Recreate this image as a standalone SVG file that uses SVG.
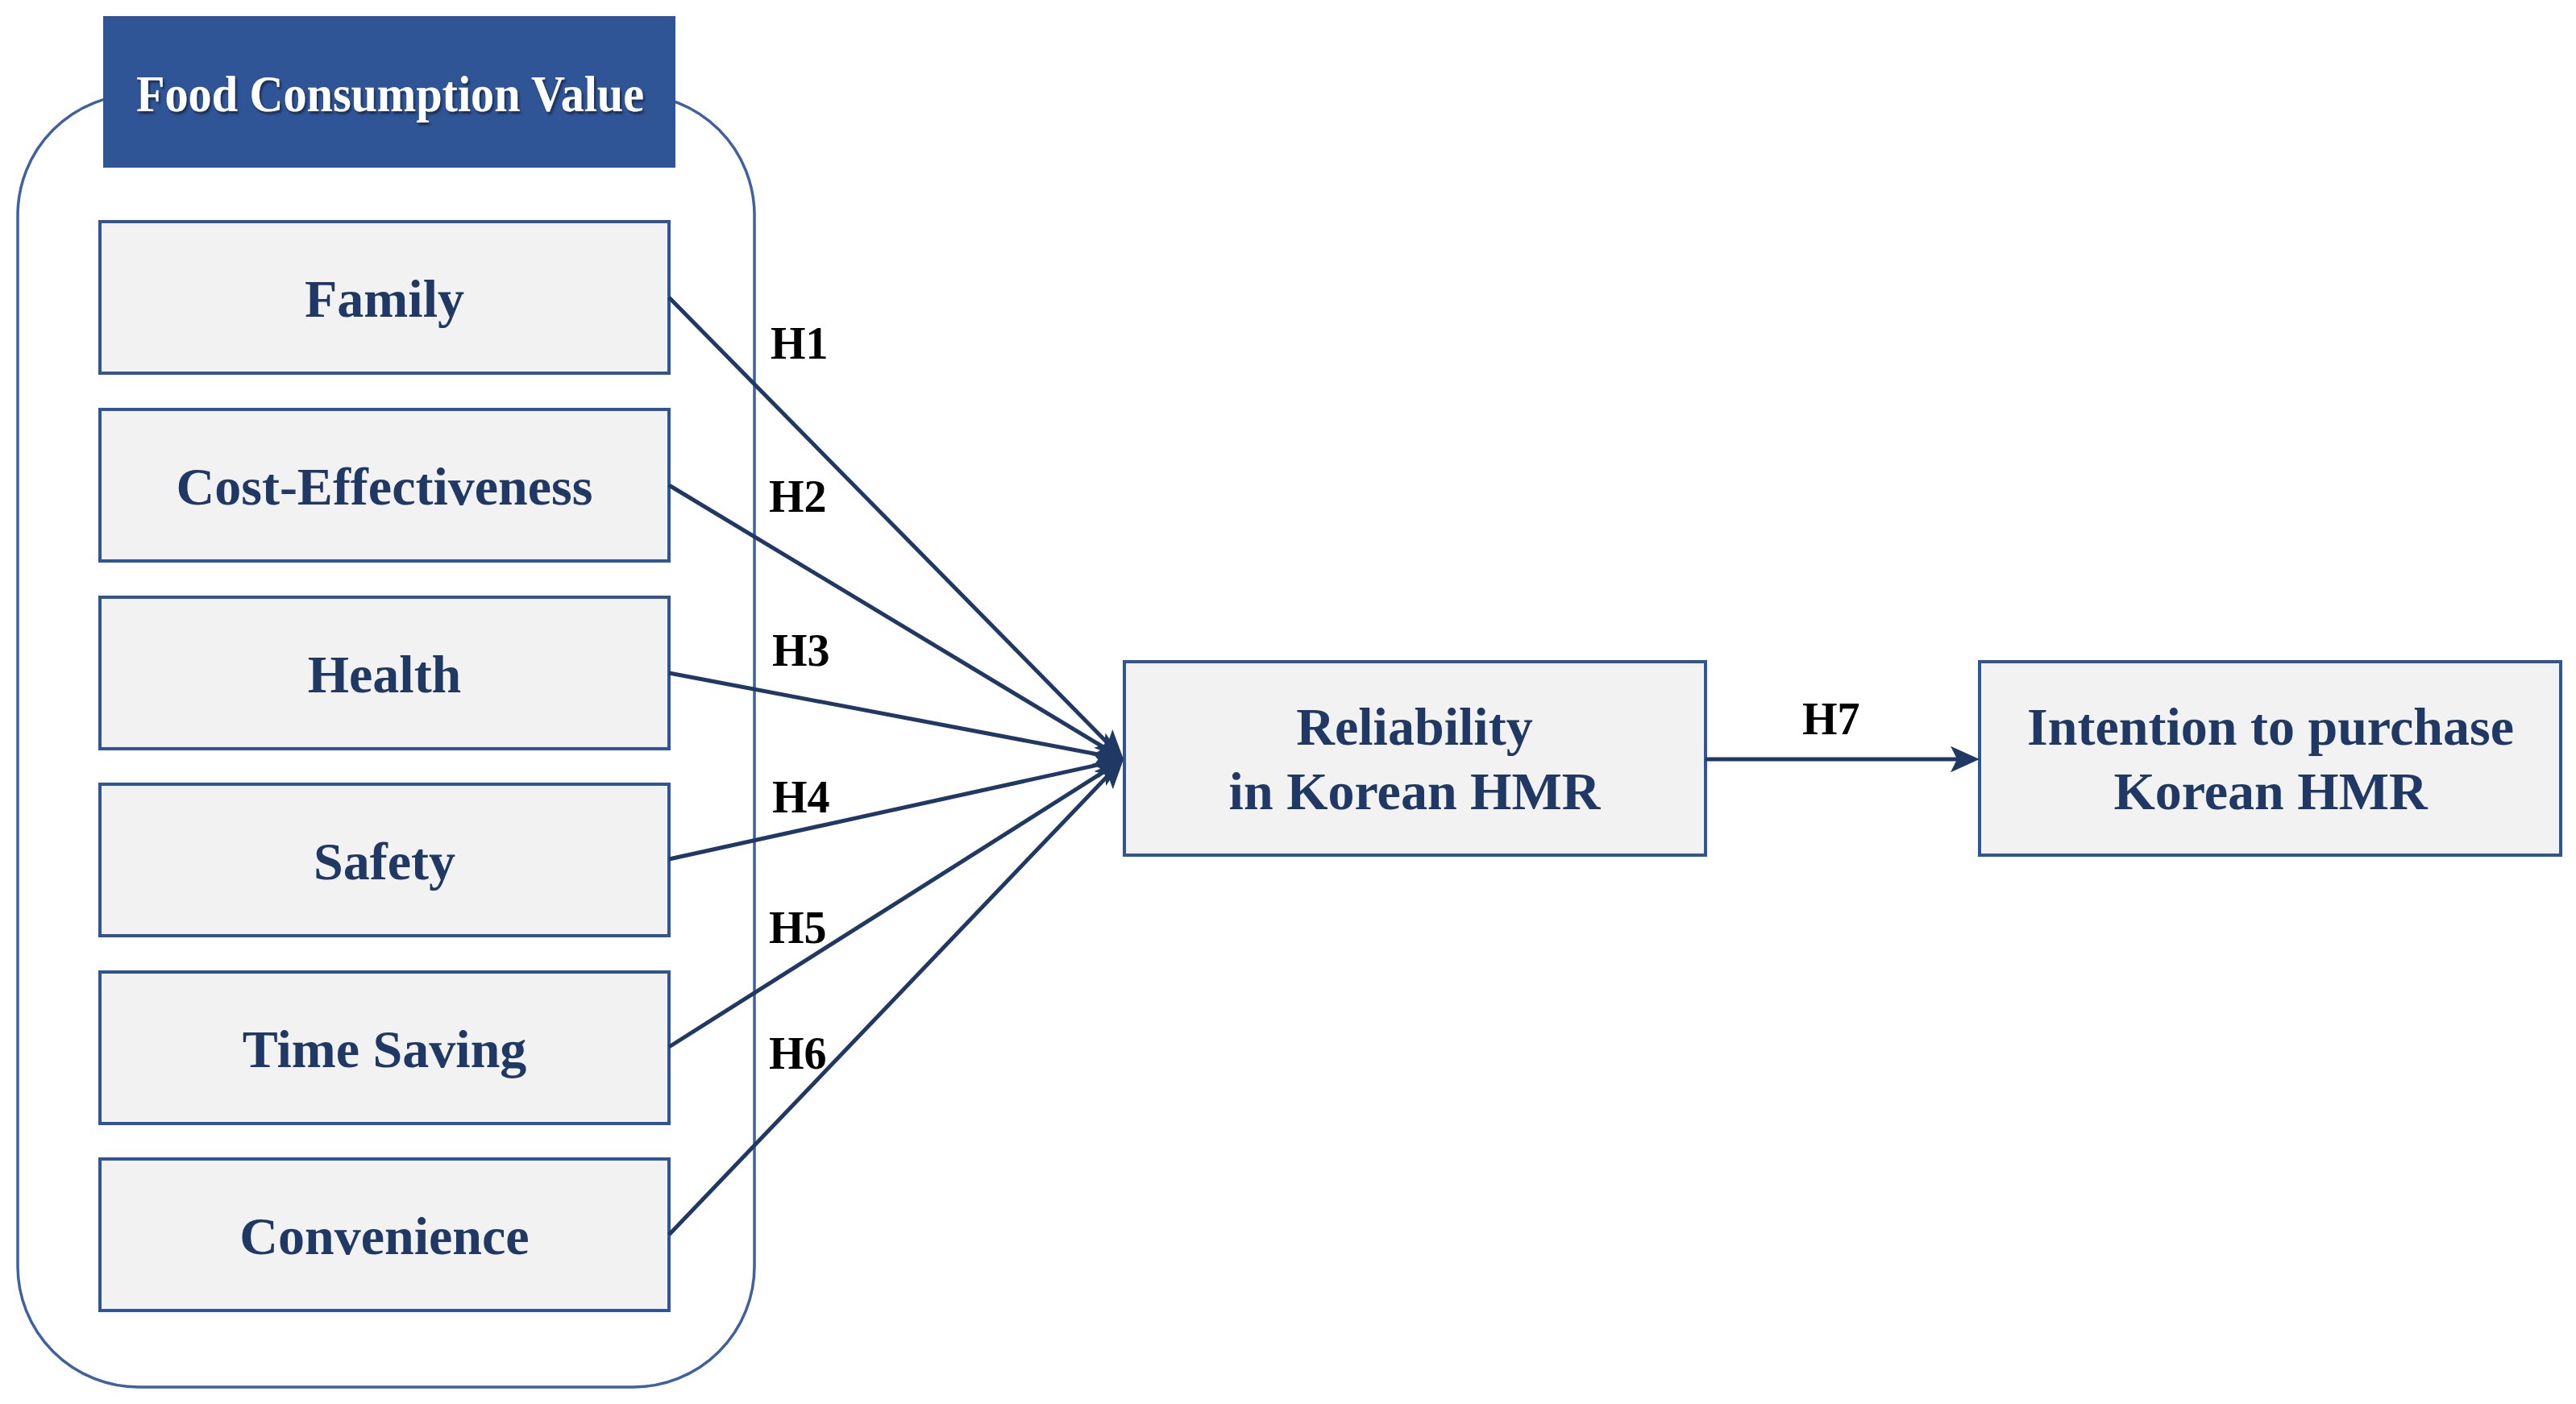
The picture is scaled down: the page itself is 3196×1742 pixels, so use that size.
<svg xmlns="http://www.w3.org/2000/svg" width="3196" height="1742" viewBox="0 0 3196 1742">
<style>
.box{fill:#F2F2F2;stroke:#2F5597;stroke-width:4}
.lbl{font-family:"Liberation Serif","Times New Roman",serif;font-weight:bold;font-size:66px;fill:#1F3864;text-anchor:middle}
.h{font-family:"Liberation Serif","Times New Roman",serif;font-weight:bold;font-size:56px;fill:#000}
.conn{stroke:#203864;stroke-width:5;fill:none}
</style>
<defs>
<marker id="arr" markerUnits="userSpaceOnUse" viewBox="0 0 40 40" markerWidth="36" markerHeight="36" refX="26.7" refY="20" orient="auto">
<path d="M0,2 L40,20 L0,38 L9,20 Z" fill="#203864"/>
</marker>
<filter id="sh" x="-5%" y="-20%" width="110%" height="140%">
<feDropShadow dx="2" dy="3" stdDeviation="1.5" flood-color="#000" flood-opacity="0.5"/>
</filter>
</defs>
<rect width="3196" height="1742" fill="#fff"/>
<g id="group-container">
<rect x="22" y="117" width="914" height="1604" rx="150" ry="150" fill="none" stroke="#3E619F" stroke-width="3.5"/>
</g>
<g id="header">
<rect x="128" y="20" width="710" height="188" fill="#2F5597"/>
<text x="484" y="138" font-family="Liberation Serif, Times New Roman, serif" font-weight="bold" font-size="64" fill="#fff" text-anchor="middle" textLength="630" lengthAdjust="spacingAndGlyphs" filter="url(#sh)">Food Consumption Value</text>
</g>
<g id="family"><rect class="box" x="124" y="275" width="706" height="188"/><text class="lbl" x="477" y="393">Family</text></g>
<g id="cost"><rect class="box" x="124" y="508" width="706" height="188"/><text class="lbl" x="477" y="626">Cost-Effectiveness</text></g>
<g id="health"><rect class="box" x="124" y="741" width="706" height="188"/><text class="lbl" x="477" y="859">Health</text></g>
<g id="safety"><rect class="box" x="124" y="973" width="706" height="188"/><text class="lbl" x="477" y="1091">Safety</text></g>
<g id="timesaving"><rect class="box" x="124" y="1206" width="706" height="188"/><text class="lbl" x="477" y="1324">Time Saving</text></g>
<g id="convenience"><rect class="box" x="124" y="1438" width="706" height="188"/><text class="lbl" x="477" y="1556">Convenience</text></g>
<g id="reliability"><rect class="box" x="1395" y="821" width="721" height="240"/><text class="lbl" x="1755" y="924">Reliability</text><text class="lbl" x="1755" y="1004">in Korean HMR</text></g>
<g id="intention"><rect class="box" x="2456" y="821" width="721" height="240"/><text class="lbl" x="2817" y="924">Intention to purchase</text><text class="lbl" x="2817" y="1004">Korean HMR</text></g>
<g id="connectors">
<line class="conn" x1="830" y1="369" x2="1385.6" y2="933.4" marker-end="url(#arr)"/>
<line class="conn" x1="830" y1="602" x2="1383.7" y2="935.8" marker-end="url(#arr)"/>
<line class="conn" x1="830" y1="835" x2="1382.2" y2="939.8" marker-end="url(#arr)"/>
<line class="conn" x1="830" y1="1066" x2="1382.3" y2="944.6" marker-end="url(#arr)"/>
<line class="conn" x1="830" y1="1299" x2="1383.9" y2="948.4" marker-end="url(#arr)"/>
<line class="conn" x1="830" y1="1532" x2="1385.7" y2="950.7" marker-end="url(#arr)"/>
<line class="conn" x1="2116" y1="942" x2="2444" y2="942" marker-end="url(#arr)"/>
<text class="h" x="956" y="445">H1</text>
<text class="h" x="954" y="635">H2</text>
<text class="h" x="958" y="826">H3</text>
<text class="h" x="958" y="1008">H4</text>
<text class="h" x="954" y="1170">H5</text>
<text class="h" x="954" y="1326">H6</text>
<text class="h" x="2236" y="911">H7</text>
</g>
</svg>
